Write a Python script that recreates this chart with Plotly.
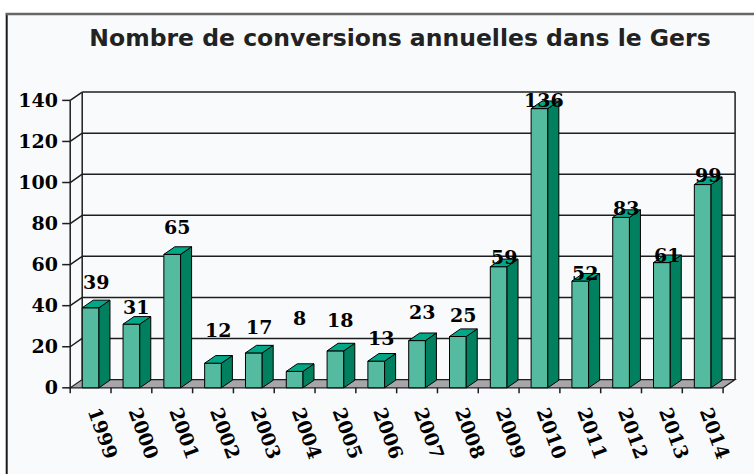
import plotly.graph_objects as go

# ---------------- data ----------------
years = ["1999", "2000", "2001", "2002", "2003", "2004", "2005", "2006",
         "2007", "2008", "2009", "2010", "2011", "2012", "2013", "2014"]
conversions = [39, 31, 65, 12, 17, 8, 18, 13, 23, 25, 59, 136, 52, 83, 61, 99]
y_ticks = [0, 20, 40, 60, 80, 100, 120, 140]
title_text = "Nombre de conversions annuelles dans le Gers"

# label lift above the bar top (px)
label_lift_px = [26, 17.5, 27.5, 33, 26, 53.5, 31, 23.3, 29, 21.6, 10, 8.2, 8.3, 9, 7.5, 9.3]

# ---------------- geometry / style ----------------
W, H = 754, 474
CU = 40.81            # px per category
YU = 288.0 / 140.0    # px per value unit
AX_X0, AX_Y0 = 70, 388
DX, DY = 12 / CU, 8.3 / YU        # wall depth
BDX, BDY = 11 / CU, 7.6 / YU      # bar depth
BW = 0.41
LABEL_NUDGE = 0.14                # year labels sit slightly right of centre
n = len(years)
YMAX = y_ticks[-1]

xr = [-0.5 - 0.25, n - 0.5 + DX + 0.12]
yr = [-3.5, YMAX + DY + 2]
plotW = (xr[1] - xr[0]) * CU
plotH = (yr[1] - yr[0]) * YU
ml = AX_X0 - (-0.5 - xr[0]) * CU
mb = H - (AX_Y0 + (0 - yr[0]) * YU)
mr = W - ml - plotW
mt = H - mb - plotH

def pxx(px):
    return (px - ml) / plotW

def pyy(py):
    return (H - mb - py) / plotH

FRONT = "#55bba0"
SIDE = "#00805e"
TOP = "#00a887"
FLOOR = "#a8a5a9"
LINE = "#1e1e1e"
SERIF = "DejaVu Serif"

shapes = []
# outer frame
shapes.append(dict(type="rect", xref="paper", yref="paper", x0=pxx(6.5), x1=pxx(800),
                   y0=pyy(13.5), y1=pyy(520), fillcolor="#f8fafc", line=dict(width=0), layer="below"))
shapes.append(dict(type="line", xref="paper", yref="paper", x0=pxx(6.5), x1=pxx(6.5),
                   y0=pyy(12.5), y1=pyy(520), line=dict(color="#1a1a1a", width=2), layer="below"))
shapes.append(dict(type="line", xref="paper", yref="paper", x0=pxx(5.5), x1=pxx(800),
                   y0=pyy(13.5), y1=pyy(13.5), line=dict(color="#666666", width=2.5), layer="below"))

def seg(x0, y0, x1, y1, color=LINE, width=1.5):
    shapes.append(dict(type="line", xref="x", yref="y", x0=x0, y0=y0, x1=x1, y1=y1,
                       line=dict(color=color, width=width), layer="below"))

xl, xrt = -0.5, n - 0.5
# floor
shapes.append(dict(type="path", xref="x", yref="y",
                   path=f"M {xl},0 L {xrt},0 L {xrt+DX},{DY} L {xl+DX},{DY} Z",
                   fillcolor=FLOOR, line=dict(color=LINE, width=1.2), layer="below"))
# gridlines on back wall and side wall
for v in y_ticks[1:]:
    seg(xl, v, xl + DX, v + DY)
    seg(xl + DX, v + DY, xrt + DX, v + DY)
# walls
seg(xl, 0, xl, YMAX)
seg(xl + DX, DY, xl + DX, YMAX + DY)
seg(xrt + DX, DY, xrt + DX, YMAX + DY)
# y ticks
for v in y_ticks:
    seg(xl - 8 / CU, v, xl, v)
# x ticks
for k in range(n + 1):
    seg(xl + k, 0, xl + k, -5.5 / YU)

fig = go.Figure()
fig.add_trace(go.Bar(x=list(range(n)), y=conversions, width=BW,
                     marker=dict(color=FRONT, line=dict(color="#000000", width=1)),
                     hoverinfo="skip", showlegend=False))

sx, sy, tx, ty = [], [], [], []
for i, v in enumerate(conversions):
    a, b = i - BW / 2, i + BW / 2
    sx += [b, b + BDX, b + BDX, b, b, None]
    sy += [0, BDY, v + BDY, v, 0, None]
    tx += [a, b, b + BDX, a + BDX, a, None]
    ty += [v, v, v + BDY, v + BDY, v, None]
fig.add_trace(go.Scatter(x=sx, y=sy, mode="lines", fill="toself", fillcolor=SIDE,
                         line=dict(color="#000000", width=1), hoverinfo="skip", showlegend=False))
fig.add_trace(go.Scatter(x=tx, y=ty, mode="lines", fill="toself", fillcolor=TOP,
                         line=dict(color="#000000", width=1), hoverinfo="skip", showlegend=False))

annotations = []
for i, v in enumerate(conversions):
    annotations.append(dict(x=i, y=v, xref="x", yref="y", text=str(v), showarrow=False,
                            xshift=5, yshift=label_lift_px[i], yanchor="middle", xanchor="center",
                            font=dict(family=SERIF, size=19, color="#000000", weight="bold")))

fig.update_layout(
    width=W, height=H, autosize=False,
    margin=dict(l=ml, r=mr, t=mt, b=mb, pad=0, autoexpand=False),
    paper_bgcolor="#ffffff", plot_bgcolor="rgba(0,0,0,0)",
    shapes=shapes, annotations=annotations, showlegend=False,
    title=dict(text=title_text, x=400 / W, xref="container", xanchor="center",
               y=1 - 38 / H, yref="container", yanchor="middle", automargin=False,
               font=dict(family="DejaVu Sans", size=23.5, color="#222222", weight="bold")),
    xaxis=dict(range=xr, tickmode="array", tickvals=[i + LABEL_NUDGE for i in range(n)],
               ticktext=years,
               tickangle=70, showgrid=False, zeroline=False, showline=False, ticks="",
               ticklabelstandoff=2, automargin=False,
               tickfont=dict(family=SERIF, size=19, color="#000000", weight="bold")),
    yaxis=dict(range=yr, tickmode="array", tickvals=y_ticks, showgrid=False, zeroline=False,
               showline=False, ticks="", ticklabelstandoff=1, automargin=False,
               tickfont=dict(family=SERIF, size=19, color="#000000", weight="bold")),
)

fig.write_html("out.html", config={"displayModeBar": False},
               post_script="document.body.style.margin='0';document.body.style.overflow='hidden';")
